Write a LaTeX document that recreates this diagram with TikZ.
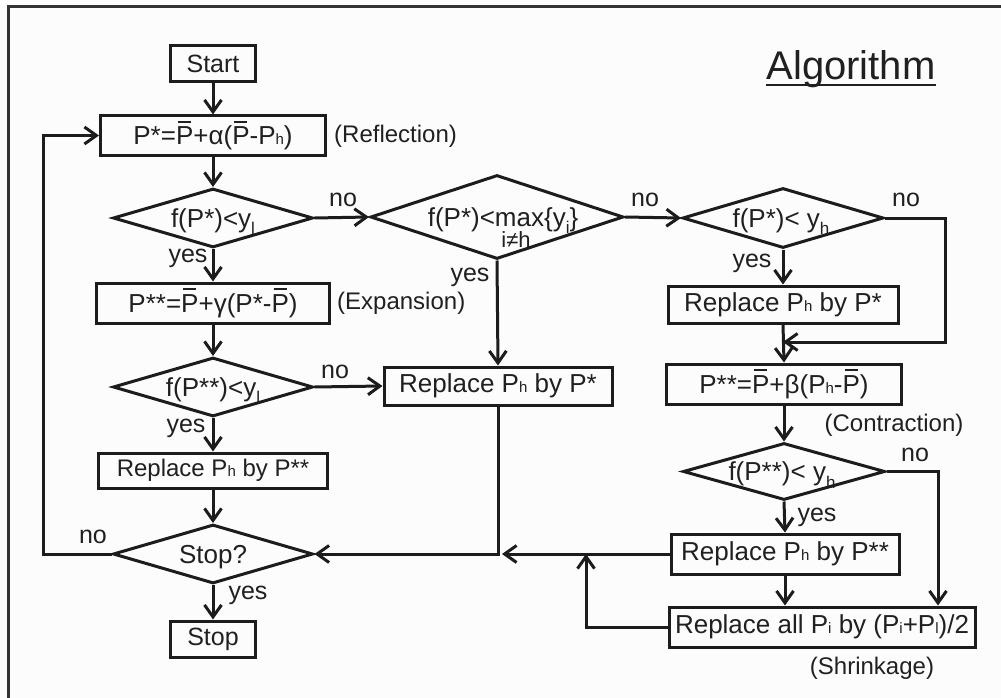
\documentclass[tikz,border=0pt]{standalone}
\usepackage{fontspec}
\setmainfont{Liberation Sans}
\usetikzlibrary{shapes.geometric,arrows.meta}
\definecolor{ink}{RGB}{28,28,28}
\definecolor{txt}{RGB}{32,32,32}
\definecolor{bg}{RGB}{252,252,252}
\definecolor{framecol}{RGB}{50,50,50}
\newcommand{\Pb}{\mbox{\makebox[0pt][l]{\hspace{0.08em}\rule[0.86em]{0.5em}{0.07em}}P}}
\newcommand{\sh}[1]{{\fontsize{15}{15}\selectfont #1}}
\newcommand{\sy}[1]{\raisebox{-0.3em}{\fontsize{17}{17}\selectfont #1}}
\tikzset{
  box/.style={draw=ink, rectangle, inner sep=0pt, text=txt, line width=3pt, font=\fontsize{26}{28}\selectfont},
  dia/.style={draw=ink, diamond, inner sep=0pt, line width=3pt},
  dtext/.style={text=txt, inner sep=0pt, anchor=base, font=\fontsize{26}{28}\selectfont},
  lbl/.style={text=txt, inner sep=0pt, font=\fontsize{25}{27}\selectfont},
  ann/.style={text=txt, inner sep=0pt, font=\fontsize{24}{26}\selectfont},
  arr/.style={draw=ink, line width=3pt, -{Straight Barb[length=12pt,width=17pt]}},
  frame/.style={draw=framecol, line width=3pt}
}
\begin{document}
\begin{tikzpicture}[x=1pt,y=-1pt]
\useasboundingbox (0,0) rectangle (1001,698);
\fill[bg] (0,0) rectangle (1001,698);
\draw[frame] (1001,7) -- (8,7) -- (8,698);

% title
\node[text=txt, inner sep=0pt, anchor=base, font=\fontsize{40}{44}\selectfont] (title) at (851,80) {Algorithm};
\draw[draw=txt, line width=2.2pt] ([yshift=-5pt]title.base west) -- ([yshift=-5pt]title.base east);

% left column
\node[box, minimum width=85pt, minimum height=36pt, font=\fontsize{25}{27}\selectfont] (start) at (213,64) {Start};
\node[box, minimum width=225pt, minimum height=39pt] (refl) at (213,135.5) {P*=\Pb+α(\Pb-P\sh{h})};
\node[dia, minimum width=200pt, minimum height=59pt] (d1) at (213,218) {};
\node[dtext] (d1t) at (213,227) {f(P*)<y\sy{l}};
\node[box, minimum width=233pt, minimum height=40pt] (exp) at (213,303) {P**=\Pb+γ(P*-\Pb)};
\node[dia, minimum width=200pt, minimum height=59pt] (d5) at (213,387) {};
\node[dtext] (d5t) at (213,396) {f(P**)<y\sy{l}};
\node[box, minimum width=229pt, minimum height=35pt, font=\fontsize{24}{26}\selectfont] (L3) at (213,470.5) {Replace P\sh{h} by P**};
\node[dia, minimum width=200pt, minimum height=59pt] (stopq) at (213,554) {};
\node[dtext] (stopqt) at (213,563) {Stop?};
\node[box, minimum width=85pt, minimum height=36pt, font=\fontsize{25}{27}\selectfont] (stop) at (213,639) {Stop};

% middle column
\node[dia, minimum width=253pt, minimum height=84pt] (d2) at (497,217) {};
\node[dtext] (d2t) at (503,226) {f(P*)<max\{y\sy{i}\}};
\node[dtext, font=\fontsize{22}{24}\selectfont] (d2s) at (516,247) {i≠h};
\node[box, minimum width=228pt, minimum height=38pt] (mid) at (498,386) {Replace P\sh{h} by P*};

% right column
\node[dia, minimum width=201pt, minimum height=60pt] (d3) at (783,218) {};
\node[dtext] (d3t) at (781,227) {f(P*)< y\sy{h}};
\node[box, minimum width=230pt, minimum height=37pt] (R1) at (783,304.5) {Replace P\sh{h} by P*};
\node[box, minimum width=235pt, minimum height=40pt] (con) at (784,384) {P**=\Pb+β(P\sh{h}-\Pb)};
\node[dia, minimum width=202pt, minimum height=57pt] (d4) at (784,471.5) {};
\node[dtext] (d4t) at (782,480.5) {f(P**)< y\sy{h}};
\node[box, minimum width=228pt, minimum height=40pt] (R2) at (785,554) {Replace P\sh{h} by P**};
\node[box, minimum width=306pt, minimum height=40pt] (shr) at (822,627) {Replace all P\sh{i} by (P\sh{i}+P\sh{l})/2};

% annotations
\node[ann, anchor=west] (rl) at (334,136) {(Reflection)};
\node[ann, anchor=west] (ex) at (337,303) {(Expansion)};
\node[ann] (ct) at (894,425) {(Contraction)};
\node[ann] (sk) at (872,668) {(Shrinkage)};

% yes / no labels
\node[lbl] (no1) at (343,200) {no};
\node[lbl] (no2) at (645,200) {no};
\node[lbl] (no3) at (906,200) {no};
\node[lbl] (yes1) at (188,258) {yes};
\node[lbl] (yes2) at (470,277) {yes};
\node[lbl] (yes3) at (752,263) {yes};
\node[lbl] (no4) at (335,372) {no};
\node[lbl] (yes4) at (186,428) {yes};
\node[lbl] (no5) at (915,455) {no};
\node[lbl] (yes5) at (817,517) {yes};
\node[lbl] (no6) at (93,537) {no};
\node[lbl] (yes6) at (248,595) {yes};

% coordinates
\coordinate (c3) at (945,218);
\coordinate (j1) at (783,342);
\coordinate (c4) at (938,471.5);
\coordinate (j2) at (586,554);
\coordinate (j3) at (498,554);
\coordinate (j3a) at (502,554);
\coordinate (c5) at (43,554);
\coordinate (c6) at (43,135.5);

% connectors
\draw[arr] (start.south) -- (refl.north);
\draw[arr] (refl.south) -- (d1.north);
\draw[arr] (d1.east) -- (d2.west);
\draw[arr] (d2.east) -- (d3.west);
\draw[arr] (d3.south) -- (R1.north);
\draw[arr] (d3.east) -- (c3) |- (j1);
\draw[arr] (R1.south) -- (con.north);
\draw[arr] (con.south) -- (d4.north);
\draw[arr] (d4.south) -- (R2.north);
\draw[arr] (d4.east) -- (c4) -- (c4 |- shr.north);
\draw[arr] (R2.south) -- (R2.south |- shr.north);
\draw[arr] (shr.west) -| (j2);
\draw[arr] (R2.west) -- (j3a);
\draw[arr] (mid.south) -- (j3) -- (stopq.east);
\draw[arr] (d2.south) -- (mid.north);
\draw[arr] (d1.south) -- (exp.north);
\draw[arr] (exp.south) -- (d5.north);
\draw[arr] (d5.east) -- (mid.west);
\draw[arr] (d5.south) -- (L3.north);
\draw[arr] (L3.south) -- (stopq.north);
\draw[arr] (stopq.west) -- (c5) -- (c6) -- (refl.west);
\draw[arr] (stopq.south) -- (stop.north);
\end{tikzpicture}
\end{document}
